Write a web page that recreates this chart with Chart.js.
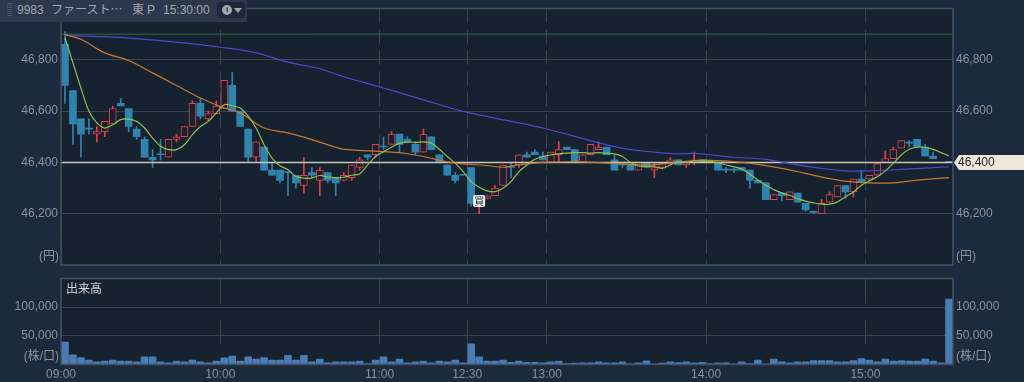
<!DOCTYPE html>
<html lang="ja">
<head>
<meta charset="UTF-8">
<title>9983 intraday</title>
<script src="https://cdn.jsdelivr.net/npm/chart.js"></script>
<style>
  html, body { margin: 0; padding: 0; background: #1c2a3e; width: 1024px; height: 382px; overflow: hidden; }
  canvas { position: absolute; left: 0; }
  #priceChart { top: 0; }
  #volumeChart { top: 270px; }
  #header { position: absolute; left: 0; top: 0; width: 247px; height: 22px; background: #2b384e; z-index: 2; }
  #header span { position: absolute; top: 2px; font: 12px "Liberation Sans", "Noto Sans CJK JP", sans-serif; color: #a0a6b0; white-space: nowrap; line-height: 16px; }
  #grip { left: 7px; top: 3px !important; width: 5px; height: 14px; background: repeating-linear-gradient(#46526a 0 1px, #2b384e 1px 2px); }
  #infoBtn { position: absolute; left: 217px; top: 2px; width: 28px; height: 16px; background: #1e2839; border-radius: 3px; }
  #infoBtn i { position: absolute; left: 5px; top: 3px; width: 10px; height: 10px; border-radius: 50%; background: #a0a6b0; color: #1e2839; font: bold 8px/10px "Liberation Sans"; text-align: center; }
  #infoBtn b { position: absolute; left: 17px; top: 6px; width: 0; height: 0; border: 4px solid transparent; border-top: 5px solid #a0a6b0; }
</style>
</head>
<body>
<div id="header">
  <span id="grip"></span>
  <span style="left:17px">9983</span>
  <span style="left:51px">ファースト⋯</span>
  <span style="left:132px">東</span>
  <span style="left:147px">P</span>
  <span style="left:163px">15:30:00</span>
  <div id="infoBtn"><i>i</i><b></b></div>
</div>
<canvas id="priceChart" width="1024" height="270"></canvas>
<canvas id="volumeChart" width="1024" height="112"></canvas>
<script>
// 3 minute bars. 09:00 is bar 0, 12:30 is bar 51
const opens = [46860,46680,46570,46530,46510,46520,46550,46630,46610,46530,46490,46420,46430,46420,46490,46500,46540,46630,46570,46590,
  46610,46700,46600,46530,46420,46460,46370,46370,46360,46350,46310,46360,46330,46360,46340,46330,46340,46380,46430,46430,
  46460,46470,46510,46490,46470,46440,46500,46430,46390,46350,46350,46380,46250,46260,46270,46310,46380,46390,46430,46440,
  46425,46400,46430,46460,46450,46400,46430,46450,46460,46410,46390,46390,46370,46400,46370,46380,46395,46410,46390,46400,
  46410,46405,46400,46370,46370,46380,46370,46330,46320,46255,46280,46255,46280,46240,46205,46200,46245,46265,46310,46285,
  46335,46335,46350,46400,46415,46455,46475,46490,46460,46425,null,46400];
const highs = [46910,46680,46570,46570,46540,46560,46620,46650,46610,46540,46500,46450,46490,46490,46510,46540,46640,46650,46600,46640,
  46720,46750,46600,46530,46480,46460,46400,46370,46360,46350,46420,46380,46380,46360,46340,46360,46390,46420,46430,46470,
  46500,46520,46510,46500,46480,46530,46500,46430,46390,46360,46350,46380,46270,46270,46310,46390,46400,46430,46440,46450,
  46440,46440,46480,46460,46450,46430,46470,46480,46460,46430,46400,46390,46400,46400,46400,46395,46420,46410,46400,46440,
  46410,46405,46400,46380,46380,46380,46370,46330,46320,46275,46280,46285,46280,46240,46210,46255,46285,46310,46310,46335,
  46370,46350,46395,46445,46460,46485,46485,46490,46470,46440,null,46400];
const lows = [46630,46470,46420,46510,46480,46500,46550,46620,46520,46490,46420,46380,46410,46420,46480,46500,46540,46570,46560,46590,
  46610,46600,46540,46400,46400,46370,46350,46320,46270,46300,46280,46340,46270,46320,46270,46330,46330,46370,46410,46420,
  46450,46470,46440,46480,46430,46440,46450,46400,46350,46320,46350,46230,46200,46260,46270,46310,46340,46380,46420,46430,
  46410,46400,46400,46450,46400,46400,46430,46450,46430,46370,46380,46370,46370,46380,46340,46380,46395,46390,46380,46390,
  46400,46400,46370,46360,46360,46370,46300,46320,46255,46255,46250,46255,46245,46210,46200,46200,46245,46265,46260,46265,
  46325,46335,46350,46400,46415,46455,46460,46460,46425,46415,null,46400];
const closes = [46700,46550,46510,46530,46520,46560,46610,46620,46540,46500,46420,46410,46430,46490,46500,46540,46630,46580,46590,46620,
  46720,46600,46540,46420,46480,46370,46350,46330,46360,46320,46350,46350,46370,46330,46320,46350,46390,46410,46420,46470,
  46460,46510,46470,46480,46440,46510,46450,46400,46350,46330,46350,46240,46260,46270,46300,46390,46380,46430,46420,46430,
  46410,46440,46450,46450,46400,46430,46470,46460,46430,46370,46390,46370,46400,46380,46380,46395,46410,46390,46400,46410,
  46400,46400,46370,46370,46370,46370,46330,46320,46255,46275,46270,46285,46245,46215,46205,46240,46275,46310,46285,46335,
  46325,46350,46395,46415,46450,46485,46475,46460,46425,46415,null,46400];
const volumes = [38900,16800,12200,7500,4600,5800,7500,5800,5800,4600,13300,13300,4600,2900,5800,4600,7500,4600,2900,5800,
  11600,14500,5800,13300,9300,12200,7500,7500,16200,7500,16200,4600,9300,2900,4600,4600,4600,5800,1700,7500,
  13300,4600,9300,2900,4600,5800,2900,5800,4600,7500,2900,36000,13300,5800,5800,7500,4000,5800,4000,4000,
  2900,4600,5800,1700,2300,2900,2900,4600,2900,2900,4600,1200,2900,6400,1200,2300,4600,3500,4600,2900,
  4000,1700,2900,2900,1200,4600,1700,7500,1200,9300,4600,2900,4600,4600,7000,7000,7000,4600,4600,7000,
  10400,7500,4600,9300,5800,7000,5800,5800,9300,5800,2900,114000];

// short moving average, one reading per bar
const greenMa = [46886,46788,46690,46600,46554,46534,46547,46567,46569,46560,46534,46495,46463,46450,46450,46469,46508,46540,46560,46593,
  46625,46621,46612,46580,46534,46469,46417,46387,46371,46345,46339,46339,46349,46343,46341,46342,46350,46355,46390,46423,
  46442,46459,46475,46479,46478,46480,46475,46451,46423,46397,46364,46325,46303,46289,46286,46299,46325,46364,46390,46412,
  46423,46429,46433,46436,46438,46438,46436,46438,46436,46433,46423,46400,46386,46384,46384,46377,46390,46403,46400,46405,
  46405,46403,46399,46390,46383,46373,46354,46331,46311,46294,46281,46272,46259,46249,46242,46237,46237,46246,46266,46285,
  46311,46328,46344,46367,46396,46429,46451,46459,46459,46451,46438,46425];
// longer averages, read at the bars listed next to them
const orangeBars = [0,2,5,8,11,14,17,20,22,25,28,31,34,35,40,42,45,48,50,53,55,57,60,65,70,73,76,80,84,87,90,93,96,98,101,104,107,111];
const orangeMa = [46899,46880,46827,46797,46749,46700,46651,46612,46593,46534,46515,46489,46459,46451,46442,46438,46423,46402,46394,46388,46381,46390,46400,46402,46394,46390,46397,46409,46403,46392,46377,46357,46337,46327,46320,46320,46331,46341];
const blueBars = [0,5,10,15,20,24,28,32,35,40,45,50,60,66,70,74,77,79,84,88,92,95,98,101,105,111];
const blueMa = [46895,46890,46880,46866,46847,46827,46791,46765,46734,46690,46644,46599,46534,46485,46455,46440,46433,46435,46420,46412,46390,46377,46367,46367,46373,46383];

const lastPrice = 46400;
const prevLevel = 46900;
const buyBar = 52;
const buyPrice = 46250;
const priceTicks = [46200, 46400, 46600, 46800];
const volumeTicks = [50000, 100000];
const tickBars = [0, 20, 40, 51, 61, 81, 101];
const tickLabels = ["09:00", "10:00", "11:00", "12:30", "13:00", "14:00", "15:00"];

const BAR_COUNT = volumes.length;
const UP = "#e2404a", DOWN = "#2f84ad", PLOT = "#172231", FRAME = "#474f5e", GRID = "#3a4350", LABEL = "#8d929b";
const FONT = { family: '"Liberation Sans", "Noto Sans CJK JP", sans-serif', size: 12 };
const CSS_FONT = '12px "Liberation Sans", "Noto Sans CJK JP", sans-serif';

const barX = (i) => i + 0.5;
const isUp = (i) => closes[i] > opens[i];
const toPoints = (bars, values) => bars.map((b, i) => ({ x: barX(b), y: values[i] }));

function xAxis(showLabels, dash) {
  return {
    type: "linear",
    offset: false,
    min: 0,
    max: BAR_COUNT,
    afterBuildTicks: (s) => { s.ticks = tickBars.map((v) => ({ value: v })); },
    afterFit: (s) => { s.height = showLabels ? 17.5 : 0; },
    grid: { color: GRID, drawTicks: false, offset: false },
    border: { display: false, dash: dash },
    ticks: {
      display: showLabels,
      autoSkip: false,
      maxRotation: 0,
      padding: 3,
      color: LABEL,
      font: FONT,
      callback: (v, i) => tickLabels[i]
    }
  };
}

function yAxis(position, min, max, values, withGrid) {
  return {
    position: position,
    min: min,
    max: max,
    afterBuildTicks: (s) => { s.ticks = values.map((v) => ({ value: v })); },
    afterFit: (s) => {
      s.width = position === "left" ? 61 : 71;
      // labels never reach the plot ends here, drop the space reserved for them
      s.paddingTop = 0;
      s.paddingBottom = 0;
    },
    grid: { display: withGrid, color: GRID, drawTicks: false },
    border: { display: false },
    ticks: {
      padding: 3,
      color: LABEL,
      font: FONT,
      callback: (v) => v.toLocaleString("en-US")
    }
  };
}

// plot background and frame, the library has no option for these
const plotFrame = {
  id: "plotFrame",
  beforeDraw(chart) {
    const a = chart.chartArea, c = chart.ctx;
    c.fillStyle = PLOT;
    c.fillRect(a.left, a.top, a.width, a.height);
  },
  afterDraw(chart) {
    const a = chart.chartArea, c = chart.ctx;
    c.strokeStyle = FRAME;
    c.lineWidth = 1.5;
    c.strokeRect(a.left, a.top, a.width, a.height);
  }
};

// unit labels at the foot of both axes
function unitLabels(id, text, y) {
  return {
    id: id,
    afterDraw(chart) {
      const a = chart.chartArea, c = chart.ctx;
      c.font = CSS_FONT;
      c.fillStyle = LABEL;
      c.textBaseline = "middle";
      c.textAlign = "right";
      c.fillText(text, a.left - 2, y);
      c.textAlign = "left";
      c.fillText(text, a.right + 3, y);
    }
  };
}

// flag with the last price and the buy marker
const priceMarks = {
  id: "priceMarks",
  afterDraw(chart) {
    const c = chart.ctx, a = chart.chartArea;
    const y = chart.scales.y.getPixelForValue(lastPrice);
    c.fillStyle = "#efe5d9";
    c.beginPath();
    c.moveTo(a.right + 1, y);
    c.lineTo(a.right + 6, y - 7.5);
    c.lineTo(1024, y - 7.5);
    c.lineTo(1024, y + 7.5);
    c.lineTo(a.right + 6, y + 7.5);
    c.closePath();
    c.fill();
    c.font = CSS_FONT;
    c.fillStyle = "#20242b";
    c.textAlign = "left";
    c.textBaseline = "middle";
    c.fillText(lastPrice.toLocaleString("en-US"), a.right + 5, y + 0.5);

    const bx = chart.scales.x.getPixelForValue(barX(buyBar));
    const by = chart.scales.y.getPixelForValue(buyPrice);
    c.fillStyle = "#eef0f2";
    c.beginPath();
    c.roundRect(bx - 6, by - 6, 12, 12, 2);
    c.fill();
    c.font = '10px "Noto Sans CJK JP", sans-serif';
    c.fillStyle = "#20242b";
    c.textAlign = "center";
    c.fillText("買", bx, by + 0.5);
  }
};

const volumeTitle = {
  id: "volumeTitle",
  afterDraw(chart) {
    const c = chart.ctx, a = chart.chartArea;
    c.font = CSS_FONT;
    c.fillStyle = "#d3d6db";
    c.textAlign = "left";
    c.textBaseline = "middle";
    c.fillText("出来高", a.left + 5, a.top + 11);
  }
};

const flatLine = (value, color, width) => ({
  type: "line",
  data: [{ x: 0, y: value }, { x: BAR_COUNT, y: value }],
  borderColor: color,
  borderWidth: width,
  pointRadius: 0,
  order: 1
});
const maLine = (points, color) => ({
  type: "line",
  data: points,
  borderColor: color,
  borderWidth: 1.2,
  pointRadius: 0,
  tension: 0.3,
  order: 0
});

const candleBars = opens.map((o, i) => i).filter((i) => opens[i] !== null);

new Chart(document.getElementById("priceChart"), {
  type: "bar",
  data: {
    datasets: [
      maLine(greenMa.map((v, i) => ({ x: barX(i), y: v })), "#8fc050"),
      maLine(toPoints(orangeBars, orangeMa), "#c9782f"),
      maLine(toPoints(blueBars, blueMa), "#4a48cc"),
      flatLine(lastPrice, "#c8c5ba", 1.5),
      flatLine(prevLevel, "#2c6b3e", 1),
      {
        // wicks
        data: candleBars.map((i) => ({ x: barX(i), y: [lows[i], highs[i]] })),
        barThickness: 1,
        grouped: false,
        backgroundColor: candleBars.map((i) => (isUp(i) ? UP : DOWN)),
        order: 3
      },
      {
        // bodies, rising bars are hollow
        data: candleBars.map((i) => ({ x: barX(i), y: [opens[i], closes[i]] })),
        barThickness: 7,
        grouped: false,
        minBarLength: 1,
        borderSkipped: false,
        borderWidth: candleBars.map((i) => (isUp(i) ? 1 : 0)),
        borderColor: UP,
        backgroundColor: candleBars.map((i) => (isUp(i) ? PLOT : DOWN)),
        order: 2
      }
    ]
  },
  options: {
    responsive: false,
    animation: false,
    layout: { padding: { top: 8.5, bottom: 5 } },
    plugins: { legend: { display: false }, tooltip: { enabled: false } },
    scales: {
      x: xAxis(false, [14, 7]),
      y: yAxis("left", 46000, 47000, priceTicks, true),
      yRight: yAxis("right", 46000, 47000, priceTicks, false)
    }
  },
  plugins: [plotFrame, unitLabels("priceUnit", "(円)", 257), priceMarks]
});

new Chart(document.getElementById("volumeChart"), {
  type: "bar",
  data: {
    datasets: [{
      data: volumes.map((v, i) => ({ x: barX(i), y: v })),
      barThickness: 7,
      backgroundColor: "#4a7cb4",
      borderRadius: { topLeft: 1, topRight: 1 }
    }]
  },
  options: {
    responsive: false,
    animation: false,
    layout: { padding: { top: 8.5 } },
    plugins: { legend: { display: false }, tooltip: { enabled: false } },
    scales: {
      x: xAxis(true, [25, 16]),
      y: yAxis("left", 0, 150000, volumeTicks, true),
      yRight: yAxis("right", 0, 150000, volumeTicks, false)
    }
  },
  plugins: [plotFrame, unitLabels("volumeUnit", "(株/口)", 87), volumeTitle]
});
</script>
</body>
</html>
